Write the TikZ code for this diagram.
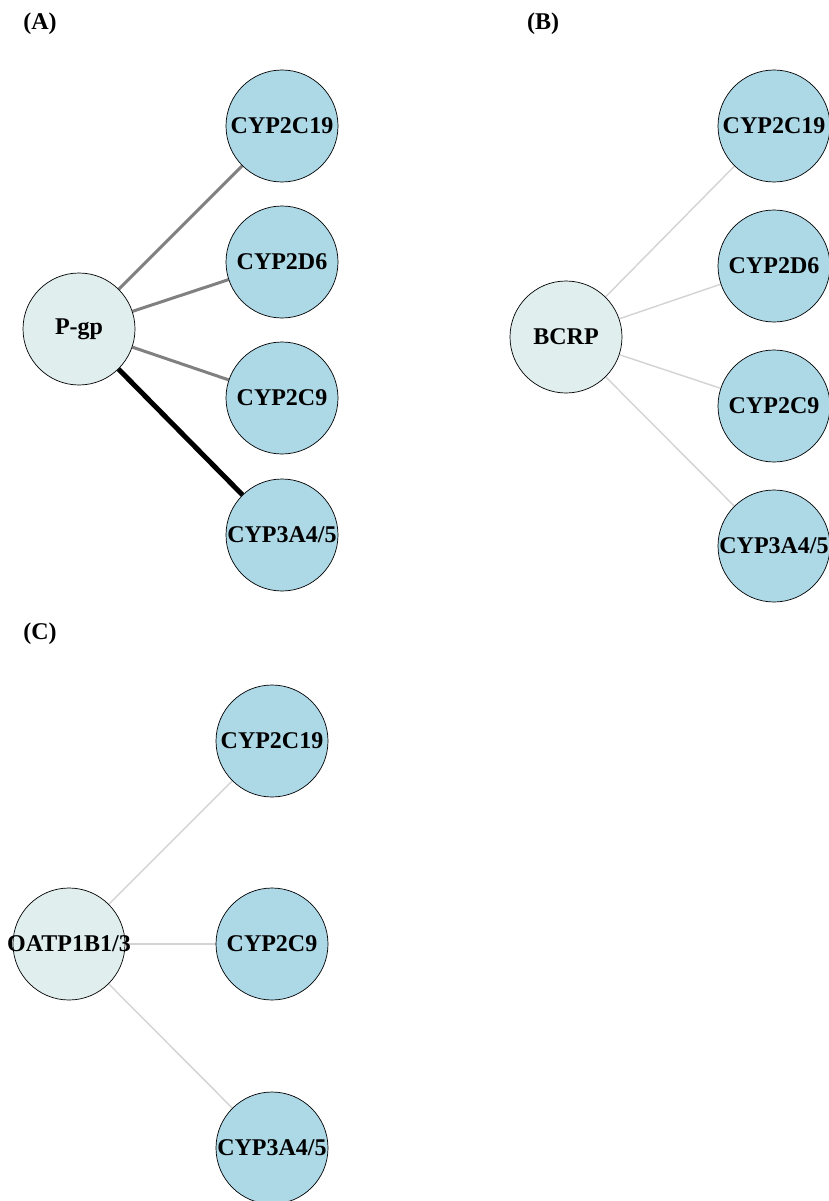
\documentclass[tikz,border=0pt]{standalone}
\usepackage{fontspec}
\setmainfont{Liberation Serif}
\usetikzlibrary{backgrounds}
\definecolor{hubfill}{HTML}{E0EEEE}
\definecolor{cypfill}{HTML}{ADD8E6}
\definecolor{midgray}{HTML}{808080}
\definecolor{lightedge}{HTML}{D3D3D3}
\begin{document}
\begin{tikzpicture}[x=1pt,y=-1pt,
	every node/.style={font=\fontsize{24}{28}\selectfont\bfseries},
	hub/.style={circle,draw,line width=0.7pt,fill=hubfill,minimum size=112pt,inner sep=0},
	cyp/.style={circle,draw,line width=0.7pt,fill=cypfill,minimum size=112pt,inner sep=0},
	medge/.style={draw=midgray,line width=3pt},
	strongedge/.style={draw=black,line width=5pt},
	weakedge/.style={draw=lightedge,line width=1.4pt}]
\useasboundingbox (0,0) rectangle (828,1201);
% panel A
\node (labA) at (40,24) {(A)};
\node[hub] (pgp) at (79,329) {P-gp};
\node[cyp] (a19) at (282,126) {CYP2C19};
\node[cyp] (a2d6) at (282,262) {CYP2D6};
\node[cyp] (a2c9) at (282,398) {CYP2C9};
\node[cyp] (a3a4) at (282,535) {CYP3A4/5};
% panel B
\node (labB) at (543,24) {(B)};
\node[hub] (bcrp) at (566,337) {BCRP};
\node[cyp] (b19) at (774,126) {CYP2C19};
\node[cyp] (b2d6) at (774,266) {CYP2D6};
\node[cyp] (b2c9) at (774,406) {CYP2C9};
\node[cyp] (b3a4) at (774,546) {CYP3A4/5};
% panel C
\node (labC) at (40,634) {(C)};
\node[hub,label=center:{OATP1B1/3}] (oatp) at (69,944) {};
\node[cyp] (c19) at (272,741) {CYP2C19};
\node[cyp] (c2c9) at (272,944) {CYP2C9};
\node[cyp] (c3a4) at (272,1148) {CYP3A4/5};
% edges, under the circles
\begin{pgfonlayer}{background}
\draw[medge] (pgp) -- (a19);
\draw[medge] (pgp) -- (a2d6);
\draw[medge] (pgp) -- (a2c9);
\draw[strongedge] (pgp) -- (a3a4);
\foreach \t in {b19,b2d6,b2c9,b3a4}
	\draw[weakedge] (bcrp) -- (\t);
\foreach \t in {c19,c2c9,c3a4}
	\draw[weakedge] (oatp) -- (\t);
\end{pgfonlayer}
\end{tikzpicture}
\end{document}
